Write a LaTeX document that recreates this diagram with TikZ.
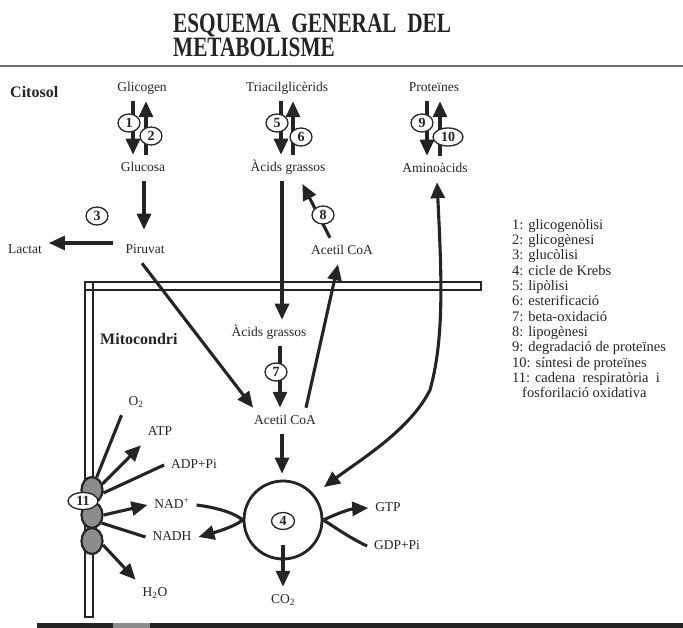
\documentclass[tikz,border=0pt]{standalone}
\usepackage{fontspec}
\setmainfont{Liberation Serif}
\usepackage{tikz}
\usetikzlibrary{arrows.meta,shapes.geometric}
\definecolor{ink}{HTML}{242424}
\definecolor{cplx}{HTML}{8C8C8C}
\definecolor{rulegray}{HTML}{707070}
\newcommand{\lblfont}{\fontsize{13.5}{15}\selectfont}
\newcommand{\numfont}{\fontsize{14}{15}\selectfont\bfseries}
\newcommand{\legfont}{\fontsize{14.5}{15.3}\selectfont}
\newcommand{\ttlfont}{\fontsize{28}{23}\selectfont\bfseries}
\newcommand{\hdfont}{\fontsize{16}{18}\selectfont\bfseries}
\tikzstyle{lab}=[font=\lblfont, text=ink, text height=9.5pt, text depth=3pt, inner sep=1pt, outer sep=6pt]
\tikzstyle{leg}=[font=\legfont, text=ink, inner sep=0pt, anchor=base west]
\tikzstyle{cn}=[shape=ellipse, draw=ink, line width=1.3pt, fill=white, minimum width=22pt, minimum height=18pt, inner sep=0pt, font=\numfont, text=ink]
\tikzstyle{cx}=[shape=ellipse, draw=ink, line width=2.2pt, fill=cplx, minimum width=21pt, minimum height=26pt, inner sep=0pt]
\tikzstyle{wall}=[draw=ink, line width=2.2pt]
\tikzstyle{common}=[line width=3.1pt, draw=ink]
\tikzstyle{flow}=[common, -{Triangle[length=16pt,width=14pt]}]
\tikzstyle{twoway}=[common, {Triangle[length=16pt,width=14pt]}-{Triangle[length=16pt,width=14pt]}]

\begin{document}
\begin{tikzpicture}[x=1pt, y=-1pt]
    \useasboundingbox (0,0) rectangle (683,628);
    % titol
    \node[anchor=north west, align=left, font=\ttlfont, text=ink, inner sep=0pt] (titol) at (173,13.5)
        {\scalebox{0.76}[1]{ESQUEMA\ \ GENERAL\ \ DEL}\\\scalebox{0.76}[1]{METABOLISME}};
    \draw[rulegray, line width=1.4pt] (0,66) -- (683,66);
    \fill[ink] (37,623) rectangle (683,628);
    \fill[cplx] (113,623) rectangle (150,628);

    % membrana
    \draw[wall] (85,282) rectangle (481,290);
    \draw[wall] (85,282) rectangle (93,617);

    % citosol
    \node[anchor=west, font=\hdfont, text=ink, inner sep=0pt] (cito) at (10,92) {Citosol};
    \node[lab] (glicogen) at (142,88) {Glicogen};
    \node[lab] (glucosa) at (143,168) {Glucosa};
    \node[lab] (piruvat) at (145,250) {Piruvat};
    \node[lab] (lactat) at (25,250) {Lactat};
    \node[lab] (triacil) at (287,88) {Triacilglicèrids};
    \node[lab] (acgr) at (288,168) {Àcids grassos};
    \node[lab] (protein) at (434,88) {Proteïnes};
    \node[lab] (aminoac) at (435,169) {Aminoàcids};
    \node[lab] (acetil) at (342,251) {Acetil CoA};

    % mitocondri
    \node[anchor=west, font=\hdfont, text=ink, inner sep=0pt] (mito) at (100,339) {Mitocondri};
    \node[lab] (acgrm) at (269,333) {Àcids grassos};
    \node[lab] (acetilm) at (285,421) {Acetil CoA};
    \node[shape=circle, draw=ink, line width=2.8pt, minimum size=78pt, inner sep=0pt] (krebs) at (283,520) {};
    \node[lab] (co2) at (283,600) {CO\textsubscript{2}};
    \node[lab] (gtp) at (388,508) {GTP};
    \node[lab] (gdp) at (397,546) {GDP+Pi};
    \node[lab] (o2) at (136,402) {O\textsubscript{2}};
    \node[lab] (atp) at (160,432) {ATP};
    \node[lab] (adp) at (194,465) {ADP+Pi};
    \node[lab] (nadp) at (172,505) {NAD\textsuperscript{+}};
    \node[lab] (nadh) at (172,537) {NADH};
    \node[lab] (h2o) at (155,593) {H\textsubscript{2}O};

    % citosol arrows
    \draw[flow] ([xshift=-9pt]glicogen.south) -- ([xshift=-10pt]glucosa.north);
    \draw[flow] ([xshift=3pt]glucosa.north) -- ([xshift=4pt]glicogen.south);
    \draw[flow, shorten >=7pt] ([xshift=1pt]glucosa.south) -- ([xshift=-1pt]piruvat.north);
    \draw[flow, shorten <=6pt] ([yshift=7pt]piruvat.west) -- ([yshift=7pt]lactat.east);
    \draw[flow] ([xshift=-6pt]triacil.south) -- ([xshift=-7pt]acgr.north);
    \draw[flow] ([xshift=5pt]acgr.north) -- ([xshift=6pt]triacil.south);
    \draw[flow] ([xshift=-7pt]protein.south) -- ([xshift=-8pt]aminoac.north);
    \draw[flow] ([xshift=5pt]aminoac.north) -- ([xshift=6pt]protein.south);
    \draw[flow, shorten >=3pt] ([xshift=-12pt]acetil.north) -- ([xshift=13pt]acgr.south);

    % through the membrane
    \draw[flow] ([xshift=-6pt]acgr.south) -- ([xshift=13pt]acgrm.north);
    \draw[flow] ([xshift=-3pt]piruvat.south) -- ([xshift=6pt]acetilm.north west);
    \draw[flow] ([xshift=21pt]acetilm.north) -- ([xshift=-4pt]acetil.south);
    \draw[twoway] ([xshift=2pt]aminoac.south) .. controls (442,280) and (444,340) .. (430,390)
        .. controls (410,430) and (360,460) .. ([shift={(10pt,7pt)}]krebs.40);

    % mitocondri arrows
    \draw[flow] ([xshift=11pt]acgrm.south) -- ([xshift=-5pt]acetilm.north);
    \draw[flow, shorten >=6pt] ([xshift=-3pt]acetilm.south) -- ([xshift=-1pt]krebs.north);
    \draw[flow] ([yshift=-25pt]krebs.center) -- (co2.north);
    \draw[flow] (krebs.east) .. controls (336,514) and (350,509) .. (gtp.west);
    \draw[common] (krebs.east) .. controls (336,528) and (350,538) .. (gdp.west);
    \draw[flow] (nadp.east) .. controls (220,508) and (236,514) .. (krebs.west)
        .. controls (234,527) and (216,532) .. (nadh.east);

    % cadena respiratoria
    \node[cx] (e1) at (92,490) {};
    \node[cx] (e2) at (92,515) {};
    \node[cx] (e3) at (92,541) {};
    \draw[common] (e1.70) -- (o2.south west);
    \draw[flow] (e1.30) -- (atp.south west);
    \draw[common] (adp.west) -- (e1.-15);
    \draw[flow] (e2.east) -- (nadp.west);
    \draw[common] (nadh.west) -- (e2.-40);
    \draw[flow] (e3.-20) -- (h2o.north west);

    % numeros
    \node[cn] (n1) at (129,123) {1};
    \node[cn] (n2) at (151,136) {2};
    \node[cn] (n3) at (97,216) {3};
    \node[cn, minimum width=23pt, minimum height=17pt] (n4) at (283,521) {4};
    \node[cn] (n5) at (277,123) {5};
    \node[cn] (n6) at (301,137) {6};
    \node[cn] (n7) at (276,372) {7};
    \node[cn] (n8) at (323,215) {8};
    \node[cn] (n9) at (422,123) {9};
    \node[cn, minimum width=30pt] (n10) at (448,137) {10};
    \node[cn, minimum width=30pt, minimum height=17pt] (n11) at (83,501) {11};

    % llegenda
    \foreach \t [count=\i] in {1: glicogenòlisi, 2: glicogènesi, 3: glucòlisi, 4: cicle de Krebs,
        5: lipòlisi, 6: esterificació, 7: beta-oxidació, 8: lipogènesi, 9: degradació de proteïnes,
        10: síntesi de proteïnes, 11: cadena\ \ respiratòria\ \ i}
        \node[leg] (leg\i) at (512,{214+15.3*\i}) {\t};
    \node[leg] (leg12) at (522,{214+15.3*12}) {fosforilació oxidativa};
\end{tikzpicture}
\end{document}
